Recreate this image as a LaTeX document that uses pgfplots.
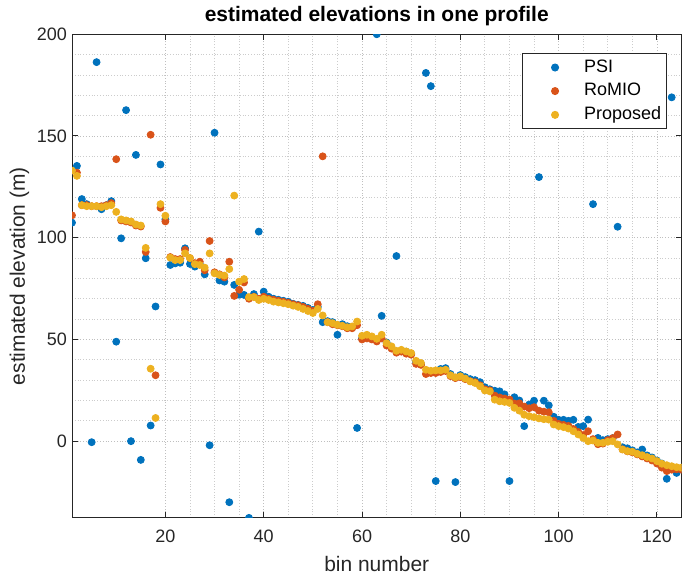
\documentclass[border=0pt]{standalone}
\usepackage{fontspec}
\setmainfont{Liberation Sans}
\usepackage{pgfplots}
\usepackage{pgfplotstable}
\pgfplotsset{compat=1.18}
\definecolor{mblue}{rgb}{0,0.447,0.741}
\definecolor{morange}{rgb}{0.85,0.325,0.098}
\definecolor{myellow}{rgb}{0.929,0.694,0.125}
\definecolor{axgray}{rgb}{0.15,0.15,0.15}

\pgfplotstableread{
x y
1 107.4
2 135.3
3 119
4 116.5
5 -0.5
6 186.3
7 114
8 116
9 118
10 48.9
11 99.7
12 162.7
13 0
14 140.7
15 -9.2
16 89.9
17 7.7
18 66.2
19 136
20 109
21 86.6
22 87.4
23 87.7
24 94.8
25 87.1
26 85.8
27 87
28 82
29 -2
30 151.6
31 79
32 78.4
33 -30
34 76.8
35 72
36 71.9
37 -37.7
38 72.3
39 103
40 73.5
41 71
42 70
43 69.5
44 69
45 68.5
46 67.5
47 67
48 66.5
49 65.5
50 64.5
51 66
52 58.5
53 59
54 58.5
55 52.3
56 57.5
57 56.5
58 56
59 6.5
60 50.5
61 51
62 50.5
63 200
64 61.6
65 48.5
66 46
67 91
68 44.5
69 44
70 43
71 39
72 38
73 181
74 174.5
75 -19.6
76 35.5
77 35.9
78 33
79 -20.1
80 32.5
81 31.5
82 30.5
83 30
84 29
85 26.5
86 25.5
87 24.8
88 24.5
89 23
90 -19.6
91 21.6
92 20
93 7.4
94 18
95 19.9
96 129.8
97 19.9
98 17.6
99 12
100 10.5
101 10.5
102 10
103 10.5
104 7
105 7.4
106 10.6
107 116.5
108 1.6
109 0.5
110 1
111 1.5
112 105.4
113 -3
114 -3.5
115 -4.5
116 -5.5
117 -4.1
118 -7
119 -8
120 -9.5
121 -11
122 -18.5
123 169
124 -15.6
125 -13.5
}\psitable

\pgfplotstableread{
x y
1 111
2 132
3 116
4 116
5 115.5
6 115.5
7 115.5
8 116
9 117
10 138.6
11 108.5
12 108
13 107.5
14 106
15 105.5
16 93
17 150.6
18 32.4
19 114.7
20 108
21 90.5
22 89.5
23 89.5
24 94
25 90
26 87.5
27 88.2
28 84
29 98.4
30 83
31 82
32 80.5
33 88.2
34 71.4
35 74.4
36 78
37 70
38 71
39 70
40 71
41 70
42 69.5
43 69
44 68.5
45 68
46 67.3
47 66.8
48 66
49 65
50 64
51 67.3
52 140
53 58.5
54 57.5
55 57
56 56.5
57 55.5
58 55.5
59 57
60 50
61 50.5
62 50
63 49
64 50.5
65 47
66 45.5
67 43.5
68 44
69 43
70 42.5
71 38
72 37.5
73 33
74 33.5
75 33.5
76 34
77 34.5
78 32
79 31
80 31.5
81 30.5
82 29.5
83 29
84 27.5
85 25.5
86 25
87 22.4
88 21.5
89 21
90 20.5
91 18.5
92 18.6
93 17
94 16.2
95 16.7
96 15
97 14.5
98 14.2
99 10
100 8.5
101 8
102 7.5
103 6
104 4.5
105 3
106 4.9
107 1
108 -1.5
109 -1.2
110 0.5
111 1.5
112 3.3
113 -4
114 -5
115 -5.5
116 -6.5
117 -7.5
118 -8.5
119 -9.5
120 -11
121 -13
122 -14.7
123 -14
124 -13.8
125 -14
}\romiotable

\pgfplotstableread{
x y
1 133
2 130.4
3 116
4 115.5
5 115.5
6 115.5
7 115
8 115.5
9 116
10 112.7
11 109
12 108.5
13 108
14 106.5
15 106
16 95
17 35.6
18 11.4
19 116.5
20 110.8
21 90.2
22 89
23 89
24 92.3
25 90
26 87
27 86.6
28 85.3
29 92.3
30 82.5
31 81.7
32 81.4
33 84.6
34 120.7
35 78.4
36 79.7
37 70.8
38 70.8
39 69.4
40 70
41 69.4
42 68.6
43 68.2
44 67.8
45 67.3
46 66.6
47 66
48 65
49 64
50 63
51 65
52 61.8
53 58.5
54 58
55 57.2
56 56.7
57 56
58 56.4
59 58.8
60 51.8
61 52.3
62 51.5
63 50.3
64 52.3
65 48.2
66 46.6
67 44.4
68 44.9
69 44.1
70 43.3
71 39.5
72 38.4
73 35.1
74 34.6
75 34.8
76 34.8
77 35.1
78 32.4
79 31.4
80 31.9
81 30.8
82 29.4
83 28.6
84 27
85 24.9
86 24.5
87 20.4
88 19.6
89 19.3
90 18.8
91 16.4
92 15
93 13
94 12.3
95 11.8
96 11.2
97 10.8
98 10.6
99 8.2
100 7.4
101 6.9
102 6.2
103 4.9
104 3.3
105 1.6
106 0
107 0.3
108 -0.8
109 -0.8
110 -0.3
111 0
112 -1.6
113 -4.1
114 -4.9
115 -5.2
116 -6.2
117 -6.9
118 -7.8
119 -8.5
120 -9.8
121 -11.1
122 -11.8
123 -12.3
124 -12.8
125 -13
}\proptable

\begin{document}
\begin{tikzpicture}
\begin{axis}[
  scale only axis, width=305pt, height=242pt,
  xmin=1, xmax=125, ymin=-37.7, ymax=200,
  xtick={20,40,...,120}, ytick={0,50,...,200},
  minor x tick num=3, minor y tick num=4,
  grid=both,
  major grid style={densely dotted, gray!50, line width=0.4pt},
  minor grid style={densely dotted, gray!40, line width=0.4pt},
  tick align=inside, major tick length=3pt, minor tick length=0pt,
  axis line style={axgray, line width=0.5pt},
  tick style={axgray, line width=0.5pt},
  ticklabel style={font=\fontsize{9}{11}\selectfont, text=axgray},
  /pgf/number format/assume math mode=true,
  xticklabel style={yshift=-2.5pt},
  yticklabel style={xshift=1pt},
  xlabel={bin number}, ylabel={estimated elevation (m)},
  label style={font=\fontsize{10.5}{12}\selectfont, text=axgray},
  xlabel style={yshift=0pt},
  ylabel style={yshift=-3pt},
  title={\textbf{estimated elevations in one profile}},
  title style={font=\fontsize{10.5}{12}\selectfont, yshift=-5.5pt},
  legend style={at={(1,1)}, anchor=north east, xshift=-7.5pt, yshift=-9.5pt,
    font=\fontsize{9}{11}\selectfont, draw=axgray, line width=0.5pt,
    inner xsep=0.5pt, inner ysep=1pt, row sep=0pt},
  legend cell align=left,
  legend image code/.code={\draw[#1] plot coordinates {(16pt,0pt)}; \path (0pt,0pt) (28.5pt,0pt);},
  clip marker paths=true,
  only marks,
]
\addplot[mark=*, mark size=1.75pt, draw=none, fill=mblue, mark options={draw=mblue, fill=mblue}] table {\psitable};
\addlegendentry{PSI}
\addplot[mark=*, mark size=1.75pt, draw=none, fill=morange, mark options={draw=morange, fill=morange}] table {\romiotable};
\addlegendentry{RoMIO}
\addplot[mark=*, mark size=1.75pt, draw=none, fill=myellow, mark options={draw=myellow, fill=myellow}] table {\proptable};
\addlegendentry{Proposed}
\end{axis}
\path ([xshift=-1.5pt]current bounding box.west);
\end{tikzpicture}
\end{document}
